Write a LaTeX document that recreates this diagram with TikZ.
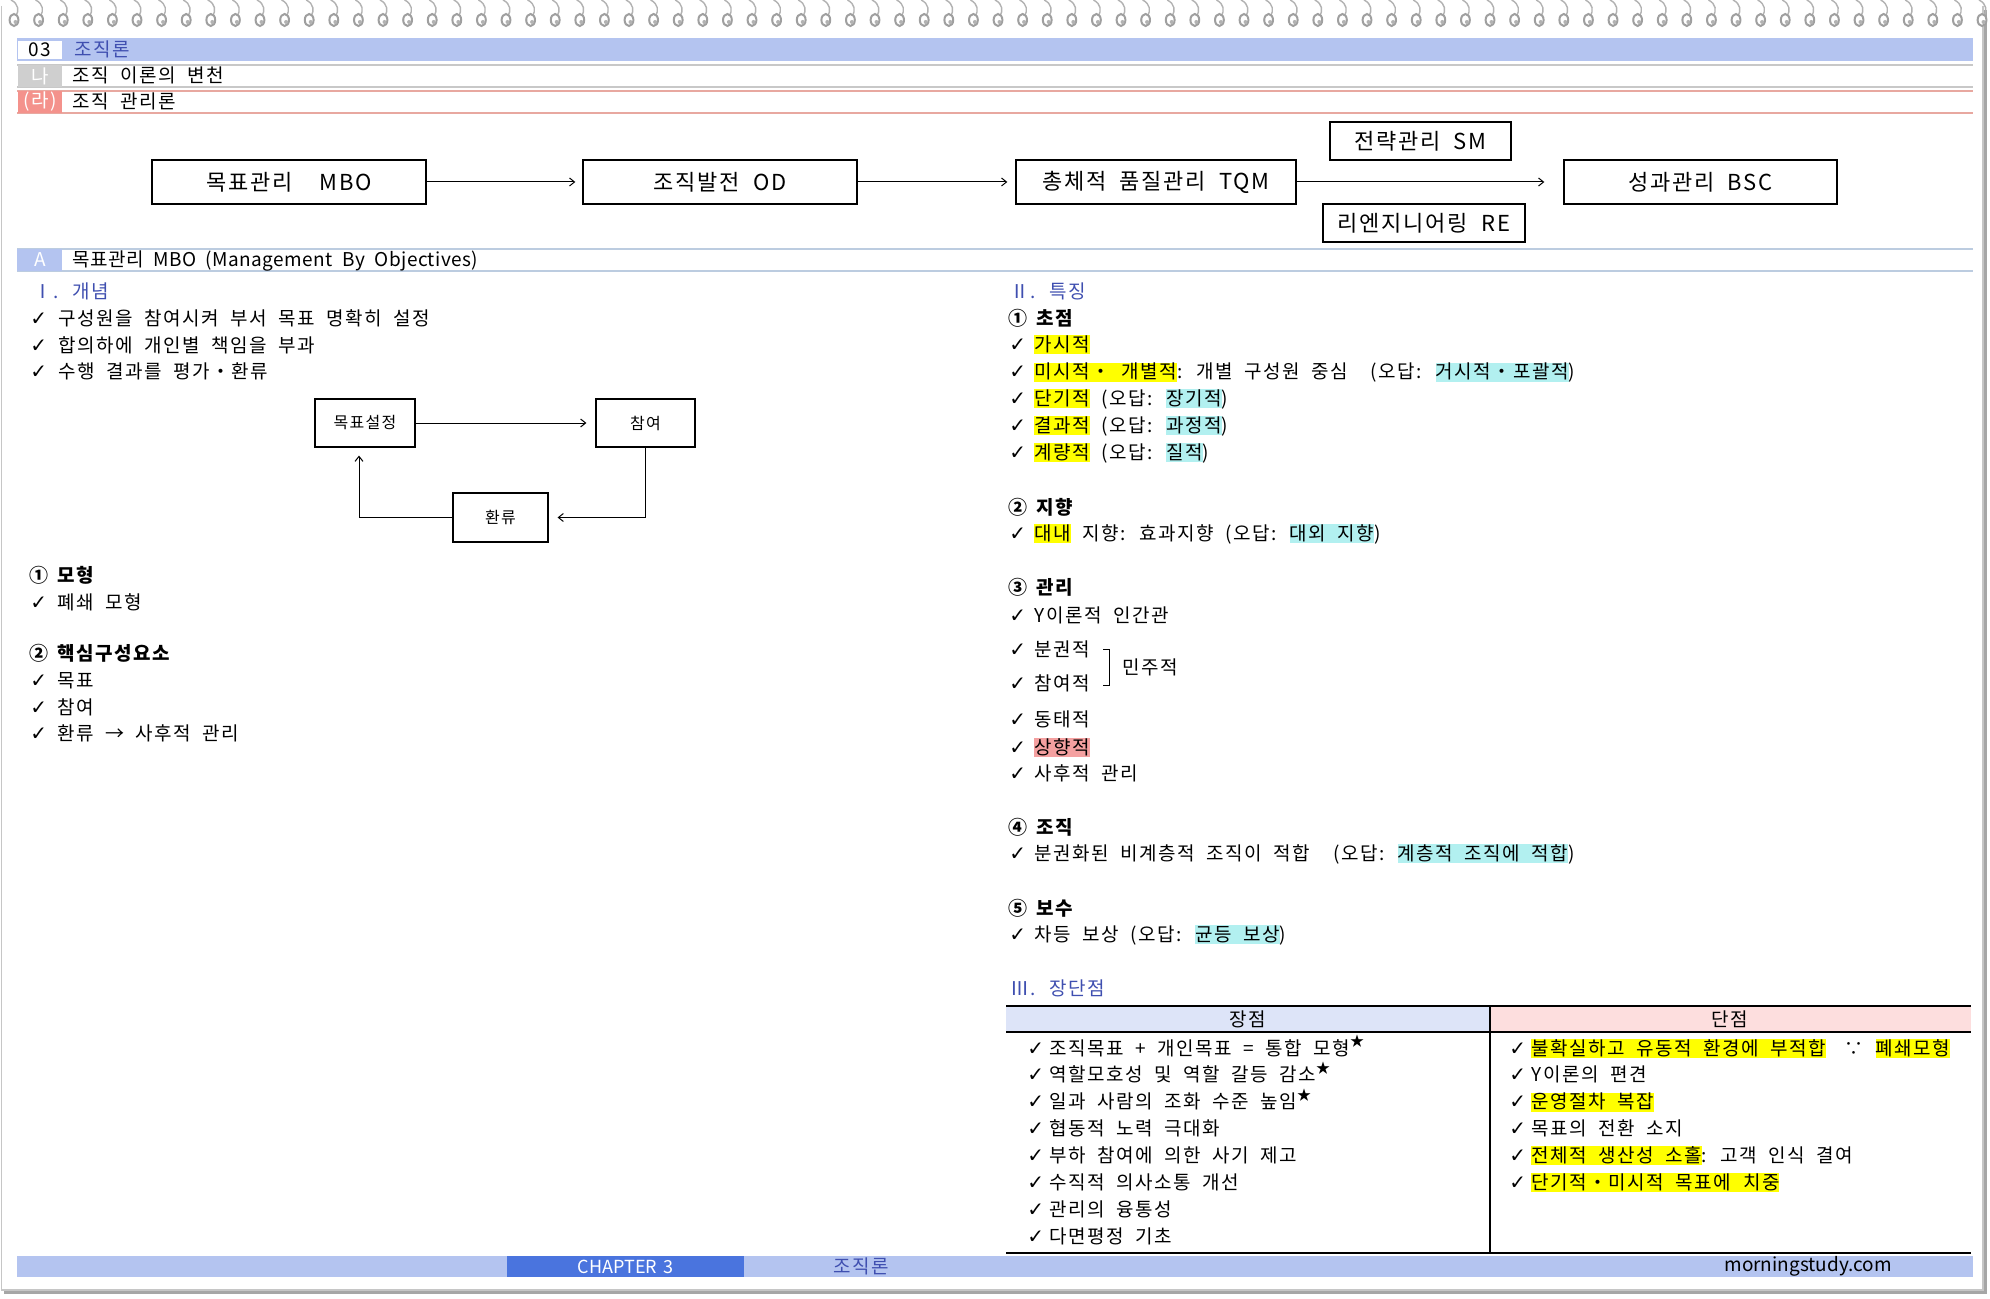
\documentclass[tikz,border=0pt]{standalone}
\usepackage{fontspec}
\setmainfont{Noto Sans CJK KR}[WordSpace=2, LetterSpace=8]
\newfontfamily\latinfont{Noto Sans CJK KR}[WordSpace=1.5]
\newfontfamily\titlefont{Noto Sans CJK KR}[WordSpace=2, LetterSpace=2.5]
\newfontfamily\symfont{DejaVu Sans}
\usetikzlibrary{arrows.meta, positioning}

\definecolor{barblue}{RGB}{180, 196, 240}
\definecolor{headblue}{RGB}{63, 79, 176}
\definecolor{chapblue}{RGB}{74, 116, 222}
\definecolor{tabgray}{RGB}{207, 207, 207}
\definecolor{tabsalmon}{RGB}{244, 146, 140}
\definecolor{linesalmon}{RGB}{232, 168, 160}
\definecolor{linegray}{RGB}{200, 200, 200}
\definecolor{lineblue}{RGB}{188, 204, 224}
\definecolor{hlyellow}{RGB}{255, 255, 0}
\definecolor{hlcyan}{RGB}{178, 240, 240}
\definecolor{hlpink}{RGB}{244, 160, 160}
\definecolor{proshade}{RGB}{221, 228, 248}
\definecolor{conshade}{RGB}{253, 222, 222}

\newcommand{\bodyfont}{\fontsize{9.5}{11}\selectfont}
\newcommand{\ck}[1][12.5pt]{\makebox[#1][l]{\symfont\bfseries\fontsize{10}{10}\selectfont ✓}}
\newcommand{\hl}[2]{{\setlength{\fboxsep}{0pt}\colorbox{#1}{\rule[-0.15em]{0pt}{1.0em}#2}}}
\newcommand{\hly}[1]{\hl{hlyellow}{#1}}
\newcommand{\hlc}[1]{\hl{hlcyan}{#1}}
\newcommand{\hlp}[1]{\hl{hlpink}{#1}}
\newcommand{\hstar}{\raisebox{0.45em}{\fontsize{7}{7}\selectfont ★}}

\tikzset{
  flowbox/.style={draw, line width=0.7pt, inner sep=0pt, font=\fontsize{11}{13}\selectfont},
  cyclebox/.style={draw, line width=0.6pt, inner sep=0pt, font=\fontsize{8}{10}\selectfont},
  flowarrow/.style={-{Straight Barb[length=2.5pt,width=4pt]}, line width=0.5pt},
  checkline/.style={anchor=base west, inner sep=0pt, yshift=-3.5pt, font=\bodyfont},
  subhead/.style={checkline, font=\bodyfont\bfseries},
  seclabel/.style={checkline, text=headblue},
  tagtext/.style={inner sep=0pt, text=white, font=\bodyfont},
}

\begin{document}
\begin{tikzpicture}[x=0.5pt, y=-0.5pt]
  \useasboundingbox (0,0) rectangle (1990,1299);
  \fill[white] (0,0) rectangle (1990,1299);

  % page frame
  \draw[gray!45, line width=0.6pt] (1.5,6) -- (1.5,1290) -- (1983,1290) -- (1983,6);
  \draw[gray!70, line width=1.2pt] (4,1292.5) -- (1985.5,1292.5) -- (1985.5,10);

  % spiral binding
  \foreach \i in {0,...,80} {
    \pgfmathsetmacro\sx{13+24.6*\i}
    \draw[gray!60, line width=0.7pt] (\sx-2,0) .. controls (\sx+6,4) and (\sx+6,11) .. (\sx+3,16);
    \draw[gray!75, line width=1pt, fill=white] (\sx+1,20) ellipse [x radius=2.2pt, y radius=3pt];
    \fill[gray!60] (\sx+2.5,22) circle [radius=1pt];
  }

  % header bars
  \fill[barblue] (17,38) rectangle (1973,61);
  \fill[white] (18,41) rectangle (62,59);
  \node[inner sep=0pt, font=\bodyfont] (chapno) at (40,50) {03};
  \node[checkline, text=headblue] (chaptitle) at (74,50) {조직론};

  \draw[linegray, line width=0.6pt] (17,65) -- (1973,65);
  \draw[linegray, line width=0.6pt] (17,87) -- (1973,87);
  \fill[tabgray] (18,65) rectangle (62,87);
  \node[tagtext] (partno) at (40,76) {나};
  \node[checkline] (parttitle) at (72,76) {조직 이론의 변천};

  \draw[linesalmon, line width=0.6pt] (17,91) -- (1973,91);
  \draw[linesalmon, line width=0.6pt] (17,113) -- (1973,113);
  \fill[tabsalmon] (18,91) rectangle (62,113);
  \node[tagtext] (subno) at (40,102) {(라)};
  \node[checkline] (subtitle) at (72,102) {조직 관리론};

  % flow of management techniques
  \node[flowbox, minimum width=137pt, minimum height=22pt] (mbo) at (289,182) {목표관리\ \ MBO};
  \node[flowbox, minimum width=137pt, minimum height=22pt] (od) at (720,182) {조직발전 OD};
  \node[flowbox, minimum width=140pt, minimum height=22pt] (tqm) at (1156,182) {총체적 품질관리 TQM};
  \node[flowbox, minimum width=90.5pt, minimum height=19pt] (sm) at (1420.5,141) {전략관리 SM};
  \node[flowbox, minimum width=101pt, minimum height=19pt] (re) at (1424,223) {리엔지니어링 RE};
  \node[flowbox, minimum width=136.5pt, minimum height=22pt] (bsc) at (1700.5,182) {성과관리 BSC};
  \draw[flowarrow, shorten >=3.5pt] (mbo) -- (od);
  \draw[flowarrow, shorten >=4pt] (od) -- (tqm);
  \draw[flowarrow, shorten >=9.5pt] (tqm) -- (bsc);

  % section A
  \draw[lineblue, line width=0.6pt] (17,249) -- (1973,249);
  \draw[lineblue, line width=0.6pt] (17,271) -- (1973,271);
  \fill[barblue] (17,249) rectangle (62,271);
  \node[tagtext] (secno) at (40,260) {A};
  \node[checkline, font=\bodyfont\titlefont] (sectitle) at (72,260) {목표관리 MBO (Management By Objectives)};

  % I. concept
  \node[seclabel] (concept) at (33,292) {Ⅰ. 개념};
  \node[checkline] (concept1) at (30,319) {\ck[14pt]구성원을 참여시켜 부서 목표 명확히 설정};
  \node[checkline] (concept2) at (30,345) {\ck[14pt]합의하에 개인별 책임을 부과};
  \node[checkline] (concept3) at (30,372) {\ck[14pt]수행 결과를 평가・환류};

  % cycle
  \node[cyclebox, minimum width=50pt, minimum height=24pt] (goal) at (365,423) {목표설정};
  \node[cyclebox, minimum width=49.5pt, minimum height=24pt] (part) at (645.5,423) {참여};
  \node[cyclebox, minimum width=47.5pt, minimum height=24.5pt] (feed) at (500.5,517.5) {환류};
  \draw[flowarrow, shorten >=4.5pt] (goal) -- (part);
  \draw[flowarrow, shorten >=4.5pt] (part.south) |- (feed.east);
  \draw[flowarrow, shorten >=4pt] (feed.west) -| ([xshift=-3pt]goal.south);

  % model, key elements
  \node[subhead] (model) at (29,575) {\makebox[14pt][l]{①}모형};
  \node[checkline] (model1) at (30,602) {\ck[13.5pt]폐쇄 모형};
  \node[subhead] (elem) at (29,653) {\makebox[14pt][l]{②}핵심구성요소};
  \node[checkline] (elem1) at (30,680) {\ck[13.5pt]목표};
  \node[checkline] (elem2) at (30,707) {\ck[13.5pt]참여};
  \node[checkline] (elem3) at (30,733) {\ck[13.5pt]환류 → 사후적 관리};

  % II. features
  \node[seclabel] (feature) at (1010,292) {Ⅱ. 특징};
  \node[subhead] (focus) at (1008,319) {\makebox[14pt][l]{①}초점};
  \node[checkline] (focus1) at (1009,344) {\ck\hly{가시적}};
  \node[checkline] (focus2) at (1009,372) {\ck\hly{미시적・ 개별적}: 개별 구성원 중심\ \ (오답: \hlc{거시적・포괄적})};
  \node[checkline] (focus3) at (1009,398) {\ck\hly{단기적} (오답: \hlc{장기적})};
  \node[checkline] (focus4) at (1009,425) {\ck\hly{결과적} (오답: \hlc{과정적})};
  \node[checkline] (focus5) at (1009,452) {\ck\hly{계량적} (오답: \hlc{질적})};

  \node[subhead] (orient) at (1008,507) {\makebox[14pt][l]{②}지향};
  \node[checkline] (orient1) at (1009,533) {\ck\hly{대내} 지향: 효과지향 (오답: \hlc{대외 지향})};

  \node[subhead] (manage) at (1008,587) {\makebox[14pt][l]{③}관리};
  \node[checkline] (manage1) at (1009,615) {\ck Y이론적 인간관};
  \node[checkline] (manage2) at (1009,649) {\ck 분권적};
  \node[checkline] (manage3) at (1009,683) {\ck 참여적};
  \draw[line width=0.5pt] (1103,649) -- (1109,649) -- (1109,685) -- (1103,685);
  \node[checkline] (demo) at (1122,667) {민주적};
  \node[checkline] (manage4) at (1009,719) {\ck 동태적};
  \node[checkline] (manage5) at (1009,747) {\ck\hlp{상향적}};
  \node[checkline] (manage6) at (1009,773) {\ck 사후적 관리};

  \node[subhead] (organ) at (1008,827) {\makebox[14pt][l]{④}조직};
  \node[checkline] (organ1) at (1009,853) {\ck 분권화된 비계층적 조직이 적합\ \ (오답: \hlc{계층적 조직에 적합})};

  \node[subhead] (reward) at (1008,908) {\makebox[14pt][l]{⑤}보수};
  \node[checkline] (reward1) at (1009,934) {\ck 차등 보상 (오답: \hlc{균등 보상})};

  % III. pros and cons
  \node[seclabel] (procon) at (1010,988) {Ⅲ. 장단점};
  \fill[proshade] (1006,1006) rectangle (1490,1032);
  \fill[conshade] (1490,1006) rectangle (1971,1032);
  \draw[line width=0.6pt] (1006,1006) -- (1971,1006);
  \draw[line width=0.6pt] (1006,1032) -- (1971,1032);
  \draw[line width=0.6pt] (1006,1253) -- (1971,1253);
  \draw[line width=0.6pt] (1490,1006) -- (1490,1253);
  \node[inner sep=0pt, font=\bodyfont] (pros) at (1248,1019) {장점};
  \node[inner sep=0pt, font=\bodyfont] (cons) at (1730,1019) {단점};
  \foreach \txt [count=\i from 0] in {{조직목표 + 개인목표 = 통합 모형\hstar},
      {역할모호성 및 역할 갈등 감소\hstar}, {일과 사람의 조화 수준 높임\hstar},
      {협동적 노력 극대화}, {부하 참여에 의한 사기 제고}, {수직적 의사소통 개선},
      {관리의 융통성}, {다면평정 기초}}
    \node[checkline] (pro\i) at (1027,{1048+26.9*\i}) {\ck[11pt]\txt};
  \foreach \txt [count=\i from 0] in {{\hly{불확실하고 유동적 환경에 부적합}\quad ∵ \hly{폐쇄모형}},
      {Y이론의 편견}, {\hly{운영절차 복잡}}, {목표의 전환 소지},
      {\hly{전체적 생산성 소홀}: 고객 인식 결여}, {\hly{단기적・미시적 목표에 치중}}}
    \node[checkline] (con\i) at (1509,{1048+26.9*\i}) {\ck[11pt]\txt};

  % footer
  \fill[barblue] (17,1256) rectangle (1973,1277);
  \fill[chapblue] (507,1256) rectangle (744,1277);
  \node[tagtext, font=\fontsize{9}{10}\selectfont\latinfont] (chapter) at (625.5,1266.5) {CHAPTER 3};
  \node[inner sep=0pt, text=headblue, font=\bodyfont] (foottitle) at (861,1266.5) {조직론};
  \node[inner sep=0pt, font=\bodyfont\latinfont] (site) at (1808,1266.5) {morningstudy.com};
\end{tikzpicture}
\end{document}
